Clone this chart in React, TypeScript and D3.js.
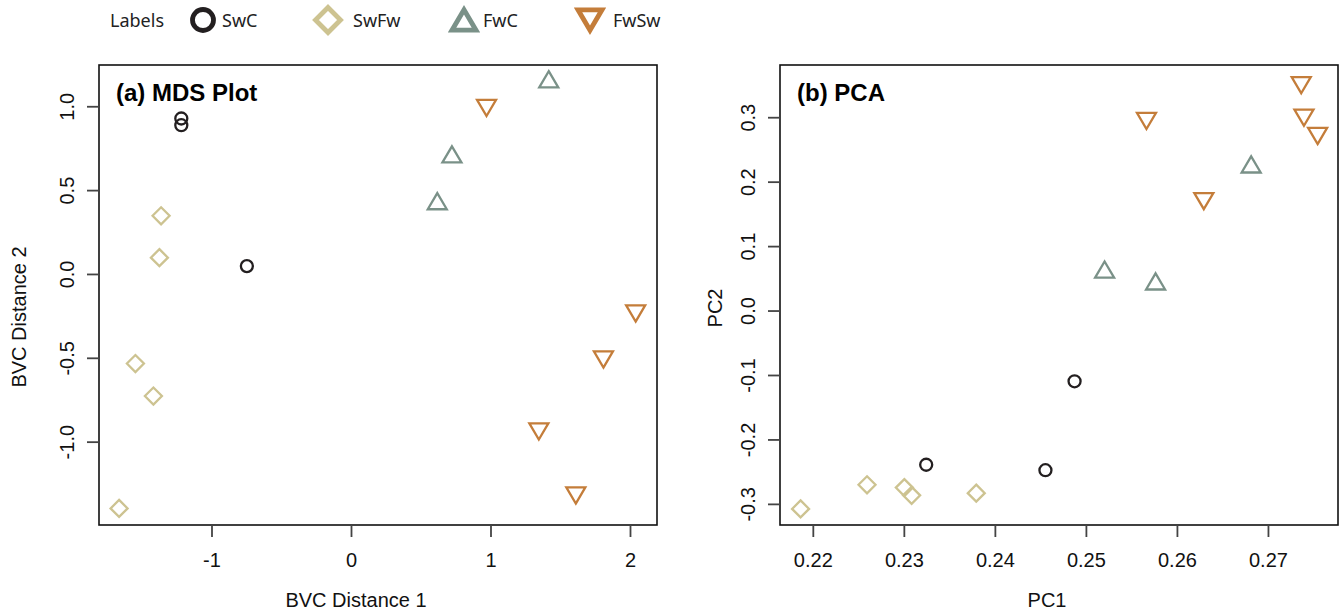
import React, { useEffect, useRef } from "react";
import * as d3 from "d3";

// legend groups
const groups = ["SwC", "SwFw", "FwC", "FwSw"];
const groupColors = ["#231f20", "#cdc391", "#7a9188", "#c47d3a"];
const groupShapes = ["circle", "diamond", "triangle", "invtriangle"];

// (a) MDS plot values
const mdsSwCx = [-1.22, -1.22, -0.75];
const mdsSwCy = [0.93, 0.89, 0.05];
const mdsSwFwx = [-1.365, -1.377, -1.549, -1.42, -1.666];
const mdsSwFwy = [0.35, 0.1, -0.531, -0.725, -1.395];
const mdsFwCx = [1.414, 0.72, 0.615];
const mdsFwCy = [1.164, 0.716, 0.437];
const mdsFwSwx = [0.968, 2.037, 1.806, 1.343, 1.608];
const mdsFwSwy = [0.993, -0.233, -0.507, -0.936, -1.318];

// (b) PCA values
const pcaSwCx = [0.2324, 0.2487, 0.2455];
const pcaSwCy = [-0.2385, -0.109, -0.247];
const pcaSwFwx = [0.2186, 0.2259, 0.23, 0.2308, 0.2379];
const pcaSwFwy = [-0.307, -0.2696, -0.274, -0.286, -0.2826];
const pcaFwCx = [0.252, 0.2576, 0.2681];
const pcaFwCy = [0.0644, 0.046, 0.2275];
const pcaFwSwx = [0.2736, 0.2566, 0.2739, 0.2754, 0.2629];
const pcaFwSwy = [0.3505, 0.295, 0.3, 0.2716, 0.1706];

// ticks
const mdsXTicks = [-1, 0, 1, 2];
const mdsYTicks = [-1, -0.5, 0, 0.5, 1];
const pcaXTicks = [0.22, 0.23, 0.24, 0.25, 0.26, 0.27];
const pcaYTicks = [-0.3, -0.2, -0.1, 0, 0.1, 0.2, 0.3];

const W = 1341;
const H = 610;
const FONT = "'Liberation Sans', Arial, sans-serif";
const LEG_FONT = "'Noto Sans', sans-serif";

function markerPath(shape: string, s: number) {
  // s = half size
  if (shape === "diamond") {
    return `M0,${-s}L${s},0L0,${s}L${-s},0Z`;
  }
  if (shape === "triangle") {
    const h = s * 0.85;
    return `M0,${-h}L${s},${h}L${-s},${h}Z`;
  }
  if (shape === "invtriangle") {
    const h = s * 0.85;
    return `M0,${h}L${s},${-h}L${-s},${-h}Z`;
  }
  return "";
}

function drawMarker(g: any, shape: string, color: string, x: number, y: number, big: boolean) {
  const sw = big ? 4.8 : 2.3;
  if (shape === "circle") {
    g.append("circle")
      .attr("cx", x)
      .attr("cy", y)
      .attr("r", big ? 10.5 : 6)
      .attr("fill", "none")
      .attr("stroke", color)
      .attr("stroke-width", sw);
  } else {
    const s = big ? (shape === "diamond" ? 12.5 : 12) : shape === "diamond" ? 8.5 : 9.5;
    g.append("path")
      .attr("d", markerPath(shape, s))
      .attr("transform", "translate(" + x + "," + y + ")")
      .attr("fill", "none")
      .attr("stroke", color)
      .attr("stroke-width", sw)
      .attr("stroke-linejoin", "miter");
  }
}

function drawPanel(svg: any, opts: any) {
  const { left, right, top, bottom, xDomain, yDomain, xTicks, yTicks, xFmt, yFmt,
    title, xLabel, yLabel, xLabelX, yLabelX, yLabelY, yTickX, series } = opts;

  const x = d3.scaleLinear().domain(xDomain).range([left, right]);
  const y = d3.scaleLinear().domain(yDomain).range([bottom, top]);

  const g = svg.append("g");

  // box
  g.append("rect")
    .attr("x", left)
    .attr("y", top)
    .attr("width", right - left)
    .attr("height", bottom - top)
    .attr("fill", "none")
    .attr("stroke", "#111")
    .attr("stroke-width", 1.6);

  // x ticks
  xTicks.forEach((t: number) => {
    g.append("line")
      .attr("x1", x(t)).attr("x2", x(t))
      .attr("y1", bottom).attr("y2", bottom + 12)
      .attr("stroke", "#444").attr("stroke-width", 1.8);
    g.append("text")
      .attr("x", x(t))
      .attr("y", 567)
      .attr("text-anchor", "middle")
      .attr("font-family", FONT)
      .attr("font-size", 20)
      .attr("fill", "#111")
      .text(d3.format(xFmt)(t).replace("−", "-"));
  });

  // y ticks
  yTicks.forEach((t: number) => {
    g.append("line")
      .attr("x1", left - 12).attr("x2", left)
      .attr("y1", y(t)).attr("y2", y(t))
      .attr("stroke", "#444").attr("stroke-width", 1.8);
    g.append("text")
      .attr("transform", "translate(" + yTickX + "," + y(t) + ") rotate(-90)")
      .attr("text-anchor", "middle")
      .attr("font-family", FONT)
      .attr("font-size", 20)
      .attr("fill", "#111")
      .text(d3.format(yFmt)(t).replace("−", "-"));
  });

  // axis titles
  g.append("text")
    .attr("x", xLabelX)
    .attr("y", 607)
    .attr("text-anchor", "middle")
    .attr("font-family", FONT)
    .attr("font-size", 20)
    .attr("fill", "#111")
    .text(xLabel);
  g.append("text")
    .attr("transform", "translate(" + yLabelX + "," + yLabelY + ") rotate(-90)")
    .attr("text-anchor", "middle")
    .attr("font-family", FONT)
    .attr("font-size", 20)
    .attr("fill", "#111")
    .text(yLabel);

  // panel title
  g.append("text")
    .attr("x", left + 17)
    .attr("y", 101)
    .attr("font-family", FONT)
    .attr("font-size", 24)
    .attr("font-weight", "bold")
    .attr("fill", "#000")
    .text(title);

  // points
  series.forEach((s: any, i: number) => {
    s.xs.forEach((xv: number, j: number) => {
      drawMarker(g, groupShapes[i], groupColors[i], x(xv), y(s.ys[j]), false);
    });
  });
}

export default function App() {
  const ref = useRef<SVGSVGElement>(null);

  useEffect(() => {
    const svg = d3.select(ref.current);
    svg.selectAll("*").remove();

    // legend
    const leg = svg.append("g");
    leg.append("text")
      .attr("x", 110).attr("y", 27)
      .attr("font-family", LEG_FONT)
      .attr("font-size", 18)
      .attr("fill", "#222")
      .text("Labels");
    const legMarkX = [203, 328, 464, 590];
    const legTextX = [222, 353, 483, 613];
    groups.forEach((name, i) => {
      drawMarker(leg, groupShapes[i], groupColors[i], legMarkX[i], 20, true);
      leg.append("text")
        .attr("x", legTextX[i]).attr("y", 27)
        .attr("font-family", LEG_FONT)
        .attr("font-size", 18)
        .attr("fill", "#222")
        .text(name);
    });

    drawPanel(svg, {
      left: 99, right: 657, top: 65, bottom: 525,
      xDomain: [-1.81, 2.19], yDomain: [-1.494, 1.249],
      xTicks: mdsXTicks, yTicks: mdsYTicks, xFmt: "d", yFmt: ".1f",
      title: "(a) MDS Plot", xLabel: "BVC Distance 1", yLabel: "BVC Distance 2",
      xLabelX: 356, yLabelX: 26, yLabelY: 317, yTickX: 74,
      series: [
        { xs: mdsSwCx, ys: mdsSwCy },
        { xs: mdsSwFwx, ys: mdsSwFwy },
        { xs: mdsFwCx, ys: mdsFwCy },
        { xs: mdsFwSwx, ys: mdsFwSwy },
      ],
    });

    drawPanel(svg, {
      left: 780, right: 1338, top: 65, bottom: 525,
      xDomain: [0.21634, 0.27764], yDomain: [-0.332, 0.3818],
      xTicks: pcaXTicks, yTicks: pcaYTicks, xFmt: ".2f", yFmt: ".1f",
      title: "(b) PCA", xLabel: "PC1", yLabel: "PC2",
      xLabelX: 1047, yLabelX: 722, yLabelY: 308, yTickX: 755,
      series: [
        { xs: pcaSwCx, ys: pcaSwCy },
        { xs: pcaSwFwx, ys: pcaSwFwy },
        { xs: pcaFwCx, ys: pcaFwCy },
        { xs: pcaFwSwx, ys: pcaFwSwy },
      ],
    });
  }, []);

  return (
    <div style={{ position: "absolute", left: 0, top: 0 }}>
      <svg ref={ref} width={W} height={H} style={{ display: "block", background: "#fff" }}></svg>
    </div>
  );
}
